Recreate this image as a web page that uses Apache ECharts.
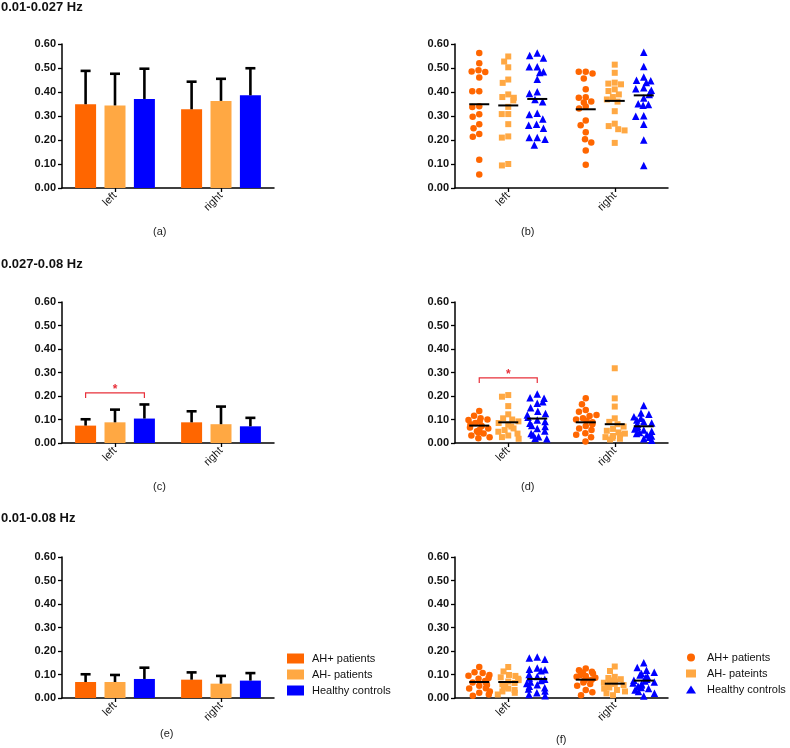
<!DOCTYPE html>
<html><head><meta charset="utf-8">
<script src="https://cdn.jsdelivr.net/npm/echarts@6/dist/echarts.min.js"></script>
<style>html,body{margin:0;padding:0;background:#fff}#c{width:790px;height:748px}</style>
</head><body><div id="c"></div><script>
// ---------- data ----------
const categories = ['left', 'right'];
const groupNames = ['AH+ patients', 'AH- patients', 'Healthy controls'];
const scatterLegendNames = ['AH+ patients', 'AH- pateints', 'Healthy controls'];
const bandTitles = ['0.01-0.027 Hz', '0.027-0.08 Hz', '0.01-0.08 Hz'];
const panelLabels = ['(a)', '(b)', '(c)', '(d)', '(e)', '(f)'];
const yTickLabels = ['0.00', '0.10', '0.20', '0.30', '0.40', '0.50', '0.60'];

// band 1 (0.01-0.027 Hz) means / SD  [left, right]
const b1_mean_AHp = [0.349, 0.328]; const b1_sd_AHp = [0.139, 0.115];
const b1_mean_AHm = [0.344, 0.363]; const b1_sd_AHm = [0.132, 0.092];
const b1_mean_HC  = [0.371, 0.386]; const b1_sd_HC  = [0.126, 0.113];
// band 2 (0.027-0.08 Hz)
const b2_mean_AHp = [0.074, 0.088]; const b2_sd_AHp = [0.027, 0.047];
const b2_mean_AHm = [0.088, 0.080]; const b2_sd_AHm = [0.054, 0.075];
const b2_mean_HC  = [0.104, 0.071]; const b2_sd_HC  = [0.060, 0.036];
// band 3 (0.01-0.08 Hz)
const b3_mean_AHp = [0.068, 0.078]; const b3_sd_AHp = [0.033, 0.031];
const b3_mean_AHm = [0.068, 0.061]; const b3_sd_AHm = [0.030, 0.033];
const b3_mean_HC  = [0.081, 0.074]; const b3_sd_HC  = [0.048, 0.032];

// individual values
const b1_left_AHp  = [0.563,0.520,0.491,0.483,0.485,0.460,0.403,0.403,0.341,0.338,0.307,0.297,0.266,0.249,0.225,0.214,0.118,0.056];
const b1_left_AHm  = [0.548,0.527,0.503,0.452,0.438,0.390,0.379,0.376,0.365,0.338,0.308,0.308,0.266,0.215,0.210,0.100,0.094];
const b1_left_HC   = [0.563,0.552,0.542,0.505,0.505,0.484,0.481,0.453,0.401,0.394,0.369,0.359,0.311,0.306,0.287,0.266,0.261,0.249,0.210,0.210,0.203,0.179];
const b1_right_AHp = [0.484,0.484,0.477,0.456,0.411,0.378,0.376,0.360,0.356,0.340,0.331,0.281,0.261,0.232,0.203,0.190,0.156,0.097];
const b1_right_AHm = [0.514,0.480,0.439,0.435,0.432,0.411,0.404,0.390,0.379,0.369,0.360,0.320,0.268,0.258,0.245,0.240,0.188];
const b1_right_HC  = [0.566,0.506,0.463,0.449,0.447,0.440,0.418,0.414,0.407,0.397,0.390,0.375,0.351,0.348,0.345,0.301,0.299,0.266,0.200,0.094];

const b2_left_AHp  = [0.136,0.116,0.105,0.100,0.098,0.092,0.085,0.080,0.072,0.066,0.062,0.055,0.050,0.045,0.040,0.032,0.025,0.020];
const b2_left_AHm  = [0.204,0.197,0.157,0.122,0.105,0.100,0.092,0.085,0.078,0.070,0.062,0.055,0.048,0.040,0.032,0.025,0.018];
const b2_left_HC   = [0.208,0.193,0.190,0.176,0.169,0.150,0.135,0.126,0.119,0.110,0.098,0.091,0.084,0.075,0.070,0.062,0.051,0.040,0.034,0.027,0.020,0.018];
const b2_right_AHp = [0.190,0.165,0.140,0.133,0.115,0.119,0.105,0.100,0.095,0.088,0.080,0.072,0.062,0.055,0.041,0.035,0.024,0.006];
const b2_right_AHm = [0.318,0.190,0.155,0.105,0.090,0.080,0.070,0.060,0.052,0.045,0.040,0.035,0.030,0.025,0.022,0.018,0.015];
const b2_right_HC  = [0.160,0.128,0.122,0.112,0.105,0.098,0.090,0.085,0.080,0.075,0.070,0.065,0.060,0.055,0.050,0.045,0.040,0.035,0.030,0.025,0.018,0.012];

const b3_left_AHp  = [0.132,0.110,0.106,0.098,0.095,0.085,0.082,0.072,0.066,0.065,0.055,0.052,0.042,0.040,0.028,0.022,0.015,0.010];
const b3_left_AHm  = [0.132,0.113,0.098,0.094,0.088,0.082,0.076,0.070,0.064,0.058,0.052,0.046,0.040,0.034,0.028,0.022,0.015];
const b3_left_HC   = [0.175,0.170,0.165,0.128,0.122,0.120,0.116,0.100,0.092,0.085,0.080,0.074,0.068,0.062,0.056,0.050,0.044,0.038,0.030,0.022,0.015,0.010];
const b3_right_AHp = [0.126,0.118,0.112,0.108,0.104,0.098,0.094,0.090,0.086,0.082,0.078,0.072,0.066,0.060,0.052,0.034,0.024,0.012];
const b3_right_AHm = [0.134,0.115,0.090,0.085,0.080,0.075,0.070,0.065,0.060,0.055,0.050,0.045,0.040,0.034,0.028,0.020,0.012];
const b3_right_HC  = [0.150,0.130,0.118,0.110,0.104,0.098,0.092,0.086,0.080,0.076,0.072,0.068,0.064,0.060,0.055,0.050,0.045,0.040,0.034,0.028,0.020,0.008];

// significance (left hemisphere, AH+ vs HC, band 2)
const sigLabel = '*';

// ---------- build ----------
const bands = [
  {means:[b1_mean_AHp,b1_mean_AHm,b1_mean_HC], sds:[b1_sd_AHp,b1_sd_AHm,b1_sd_HC],
   pts:[[b1_left_AHp,b1_left_AHm,b1_left_HC],[b1_right_AHp,b1_right_AHm,b1_right_HC]], sig:null},
  {means:[b2_mean_AHp,b2_mean_AHm,b2_mean_HC], sds:[b2_sd_AHp,b2_sd_AHm,b2_sd_HC],
   pts:[[b2_left_AHp,b2_left_AHm,b2_left_HC],[b2_right_AHp,b2_right_AHm,b2_right_HC]], sig:{bar:0.213, dot:0.277}},
  {means:[b3_mean_AHp,b3_mean_AHm,b3_mean_HC], sds:[b3_sd_AHp,b3_sd_AHm,b3_sd_HC],
   pts:[[b3_left_AHp,b3_left_AHm,b3_left_HC],[b3_right_AHp,b3_right_AHm,b3_right_HC]], sig:null}
];

const colors = ['#FF6600', '#FFA843', '#0000FF'];
const symbols = ['circle', 'rect', 'triangle'];
const symbolSizes = [6.5, 6, 7.5];
const scNames = ['sAHp', 'sAHm', 'sHC'];
const FONT = '"Liberation Sans", Arial, Helvetica, sans-serif';
const rows = [{top:44, h:144}, {top:302, h:141}, {top:557, h:141}];
const BAR_LEFT = 62, BAR_W = 212, SC_LEFT = 455, SC_W = 213;
const BAR_WIDTH = 21, BAR_GAP = 0.4, BAR_STEP = BAR_WIDTH * (1 + BAR_GAP);
const COL_BAND = 29;

const grid = [], xAxis = [], yAxis = [], series = [];

function visY(gi) {
  return {type:'value', gridIndex:gi, min:0, max:0.6, interval:0.1,
    axisLine:{show:true, lineStyle:{color:'#000', width:1.5}},
    axisTick:{show:true, length:4, lineStyle:{color:'#000', width:1.3}},
    axisLabel:{fontSize:11, fontWeight:'bold', color:'#111', margin:6, fontFamily:FONT,
      formatter:(v) => yTickLabels[Math.round(v * 10)]},
    splitLine:{show:false}};
}
function visX(gi) {
  return {type:'category', gridIndex:gi, data:categories, boundaryGap:true,
    axisLine:{show:true, lineStyle:{color:'#000', width:1.5}},
    axisTick:{show:true, alignWithLabel:true, length:4, lineStyle:{color:'#000', width:1.3}},
    axisLabel:{rotate:45, fontSize:11, color:'#111', margin:6, fontFamily:FONT},
    splitLine:{show:false}};
}
function errRender(offset) {
  return function (params, api) {
    const c = api.value(0), m = api.value(1), s = api.value(2);
    const p0 = api.coord([c, m]), p1 = api.coord([c, m + s]);
    const x = p0[0] + offset;
    const st = {stroke:'#000', lineWidth:2.6};
    return {type:'group', children:[
      {type:'line', shape:{x1:x, y1:p0[1], x2:x, y2:p1[1]}, style:st},
      {type:'line', shape:{x1:x - 5, y1:p1[1], x2:x + 5, y2:p1[1]}, style:st}
    ]};
  };
}
function bracketRender(leftOff, rightOff) {
  return function (params, api) {
    const c0 = api.coord([api.value(0), api.value(1)]);
    const c1 = api.coord([api.value(2), api.value(1)]);
    const x0 = c0[0] + leftOff, x1 = c1[0] + rightOff, y = c0[1];
    const st = {stroke:'#E8303A', lineWidth:1.2, fill:null};
    return {type:'group', children:[
      {type:'polyline', shape:{points:[[x0, y + 5], [x0, y], [x1, y], [x1, y + 5]]}, style:st},
      {type:'text', style:{x:(x0 + x1) / 2, y:y - 3, text:sigLabel, fill:'#E8303A',
        font:'bold 12px ' + FONT, textAlign:'center', textVerticalAlign:'middle'}}
    ]};
  };
}
function meanRender(params, api) {
  const p = api.coord([api.value(0), api.value(1)]);
  return {type:'line', shape:{x1:p[0] - 10, y1:p[1], x2:p[0] + 10, y2:p[1]},
    style:{stroke:'#000', lineWidth:2}};
}

bands.forEach((b, bi) => {
  const row = rows[bi];
  // ---- bar panel ----
  let gi = grid.length;
  grid.push({left:BAR_LEFT, top:row.top, width:BAR_W, height:row.h});
  xAxis.push(visX(gi)); yAxis.push(visY(gi));
  for (let k = 0; k < 3; k++) {
    series.push({type:'bar', name:groupNames[k], xAxisIndex:gi, yAxisIndex:gi, data:b.means[k],
      barWidth:BAR_WIDTH, barGap:(BAR_GAP * 100) + '%', itemStyle:{color:colors[k]}, z:2, silent:true});
  }
  for (let k = 0; k < 3; k++) {
    series.push({type:'custom', xAxisIndex:gi, yAxisIndex:gi, z:3, silent:true,
      data:categories.map((c, i) => [i, b.means[k][i], b.sds[k][i]]),
      renderItem:errRender((k - 1) * BAR_STEP)});
  }
  if (b.sig) {
    series.push({type:'custom', xAxisIndex:gi, yAxisIndex:gi, z:4, silent:true,
      data:[[0, b.sig.bar, 0]], renderItem:bracketRender(-BAR_STEP, BAR_STEP)});
  }
  // ---- scatter panel ----
  const vg = grid.length;
  grid.push({left:SC_LEFT, top:row.top, width:SC_W, height:row.h});
  xAxis.push(visX(vg)); yAxis.push(visY(vg));
  const band = SC_W / 2;
  [0, 1].forEach((side) => {
    const hg = grid.length;
    const center = SC_LEFT + band * (side + 0.5);
    grid.push({left:center - COL_BAND * 1.5, top:row.top, width:COL_BAND * 3, height:row.h});
    xAxis.push({type:'category', gridIndex:hg, data:['c0', 'c1', 'c2'], show:false, boundaryGap:true,
      jitter:22, jitterOverlap:false, jitterMargin:0.5});
    yAxis.push({type:'value', gridIndex:hg, min:0, max:0.6, show:false});
    for (let k = 0; k < 3; k++) {
      series.push({type:'scatter', name:scNames[k], xAxisIndex:hg, yAxisIndex:hg,
        data:b.pts[side][k].map((v) => [k, v]), symbol:symbols[k], symbolSize:symbolSizes[k],
        itemStyle:{color:colors[k], opacity:1}, z:2, silent:true});
    }
    series.push({type:'custom', xAxisIndex:hg, yAxisIndex:hg, z:5, silent:true,
      data:[0, 1, 2].map((k) => [k, b.means[k][side]]), renderItem:meanRender});
    if (b.sig && side === 0) {
      series.push({type:'custom', xAxisIndex:hg, yAxisIndex:hg, z:4, silent:true,
        data:[[0, b.sig.dot, 2]], renderItem:bracketRender(0, 0)});
    }
  });
});

const titleStyle = {fontSize:13, fontWeight:'bold', color:'#111', fontFamily:FONT};
const subStyle = {fontSize:11, fontWeight:'normal', color:'#222', fontFamily:FONT};
const title = [
  {text:bandTitles[0], left:1, top:1, textStyle:titleStyle, padding:0},
  {text:bandTitles[1], left:1, top:258, textStyle:titleStyle, padding:0},
  {text:bandTitles[2], left:1, top:512, textStyle:titleStyle, padding:0},
  {text:panelLabels[0], left:153, top:226, textStyle:subStyle, padding:0},
  {text:panelLabels[1], left:521, top:226, textStyle:subStyle, padding:0},
  {text:panelLabels[2], left:153, top:481, textStyle:subStyle, padding:0},
  {text:panelLabels[3], left:521, top:481, textStyle:subStyle, padding:0},
  {text:panelLabels[4], left:160, top:728, textStyle:subStyle, padding:0},
  {text:panelLabels[5], left:556, top:734, textStyle:subStyle, padding:0}
];

const legend = [
  {orient:'vertical', left:287, top:653, itemWidth:17, itemHeight:10, itemGap:5, icon:'rect',
   selectedMode:false, data:groupNames, padding:0,
   textStyle:{fontSize:11, color:'#111', fontFamily:FONT, padding:[0, 0, 0, 3]}},
  {orient:'vertical', left:686, top:652, itemWidth:10, itemHeight:8, itemGap:5,
   selectedMode:false, data:scNames, padding:0,
   formatter:(n) => scatterLegendNames[scNames.indexOf(n)],
   textStyle:{fontSize:11, color:'#111', fontFamily:FONT, padding:[0, 0, 0, 6]}}
];

const chart = echarts.init(document.getElementById('c'), null, {renderer:'canvas'});
chart.setOption({animation:false, backgroundColor:'#fff', textStyle:{fontFamily:FONT},
  title, legend, grid, xAxis, yAxis, series});
</script></body></html>
